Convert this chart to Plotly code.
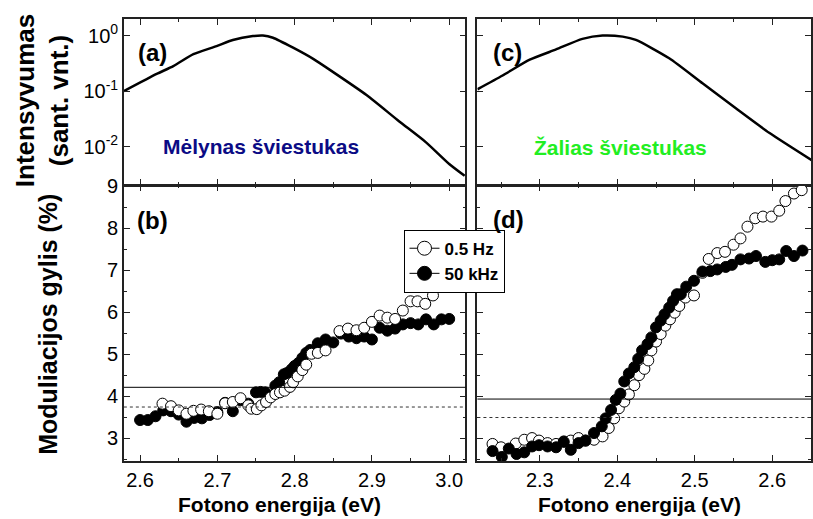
import plotly.graph_objects as go

# ---- Emission spectra (normalised intensity) ----
blue_E = [2.579, 2.6215, 2.643, 2.669, 2.699, 2.720, 2.746, 2.759, 2.772, 2.798,
          2.824, 2.849, 2.893, 2.935, 2.970, 3.000, 3.020]
blue_I = [0.100, 0.204, 0.282, 0.462, 0.646, 0.832, 0.977, 1.0, 0.912, 0.603,
          0.380, 0.224, 0.0851, 0.0288, 0.0120, 0.0049, 0.0030]

green_E = [2.2195, 2.252, 2.287, 2.321, 2.355, 2.381, 2.407, 2.424, 2.467, 2.510,
           2.553, 2.596, 2.652]
green_I = [0.108, 0.191, 0.367, 0.562, 0.871, 1.0, 0.955, 0.832, 0.389, 0.138,
           0.049, 0.0178, 0.0056]

# ---- Modulation depth, blue LED ----
blue_low_E = [2.629, 2.640, 2.650, 2.660, 2.669, 2.679, 2.689, 2.700, 2.710, 2.720,
              2.730, 2.740, 2.744, 2.751, 2.757, 2.763, 2.769, 2.775, 2.781, 2.787,
              2.794, 2.798, 2.804, 2.810, 2.815, 2.822, 2.830, 2.840, 2.858, 2.869,
              2.880, 2.890, 2.900, 2.910, 2.920, 2.930, 2.940, 2.950, 2.959, 2.969,
              2.979]
blue_low_M = [3.82, 3.76, 3.66, 3.58, 3.65, 3.68, 3.64, 3.58, 3.83, 3.86,
              3.95, 3.78, 3.70, 3.69, 3.78, 3.86, 3.97, 4.05, 4.09, 4.13,
              4.22, 4.33, 4.47, 4.62, 4.75, 5.01, 5.03, 5.09, 5.55, 5.61,
              5.57, 5.63, 5.77, 5.92, 5.87, 5.84, 6.04, 6.26, 6.26, 6.20,
              6.40]

blue_high_E = [2.600, 2.610, 2.620, 2.630, 2.640, 2.650, 2.660, 2.670, 2.680, 2.690,
               2.700, 2.710, 2.720, 2.730, 2.740, 2.750, 2.756, 2.762, 2.770, 2.775,
               2.780, 2.786, 2.790, 2.796, 2.800, 2.805, 2.810, 2.815, 2.820, 2.830,
               2.840, 2.850, 2.860, 2.870, 2.880, 2.890, 2.900, 2.910, 2.920, 2.930,
               2.940, 2.950, 2.960, 2.970, 2.980, 2.990, 3.000]
blue_high_M = [3.43, 3.43, 3.52, 3.66, 3.64, 3.56, 3.39, 3.48, 3.47, 3.55,
               3.62, 3.84, 3.64, 3.90, 3.82, 4.09, 4.10, 4.09, 4.01, 4.25,
               4.33, 4.52, 4.55, 4.64, 4.72, 4.79, 4.91, 5.03, 5.10, 5.26,
               5.35, 5.28, 5.49, 5.42, 5.38, 5.42, 5.35, 5.63, 5.56, 5.61,
               5.71, 5.74, 5.71, 5.83, 5.71, 5.83, 5.84]

# ---- Modulation depth, green LED ----
green_low_E = [2.239, 2.250, 2.269, 2.280, 2.290, 2.299, 2.310, 2.321, 2.331, 2.340,
               2.350, 2.359, 2.370, 2.381, 2.389, 2.396, 2.402, 2.409, 2.415, 2.422,
               2.428, 2.435, 2.440, 2.444, 2.450, 2.456, 2.462, 2.468, 2.474, 2.480,
               2.488, 2.499, 2.510, 2.518, 2.529, 2.539, 2.550, 2.559, 2.568, 2.578,
               2.588, 2.599, 2.609, 2.617, 2.628, 2.638]
green_low_M = [2.86, 2.78, 2.87, 2.96, 3.00, 2.94, 2.88, 2.86, 2.92, 2.94,
               3.00, 2.94, 2.96, 3.04, 3.24, 3.47, 3.71, 3.87, 4.04, 4.26,
               4.50, 4.65, 4.85, 5.09, 5.30, 5.48, 5.68, 5.83, 5.99, 6.15,
               6.35, 6.40, 6.94, 7.27, 7.41, 7.44, 7.61, 7.76, 8.04, 8.24,
               8.28, 8.28, 8.42, 8.65, 8.83, 8.91]

green_high_E = [2.239, 2.251, 2.260, 2.270, 2.280, 2.290, 2.299, 2.310, 2.321, 2.331,
                2.340, 2.350, 2.359, 2.370, 2.380, 2.385, 2.392, 2.398, 2.404, 2.409,
                2.415, 2.422, 2.427, 2.432, 2.439, 2.444, 2.450, 2.456, 2.461, 2.467,
                2.472, 2.477, 2.482, 2.489, 2.499, 2.510, 2.520, 2.529, 2.540, 2.548,
                2.559, 2.570, 2.579, 2.591, 2.600, 2.609, 2.618, 2.628, 2.639]
green_high_M = [2.69, 2.55, 2.75, 2.62, 2.66, 2.80, 2.83, 2.80, 2.78, 2.91,
                2.72, 2.88, 2.94, 3.12, 3.28, 3.47, 3.67, 3.91, 4.06, 4.35,
                4.54, 4.69, 4.89, 5.09, 5.24, 5.40, 5.64, 5.80, 5.95, 6.11,
                6.27, 6.43, 6.43, 6.61, 6.75, 6.97, 6.98, 7.02, 7.08, 7.13,
                7.26, 7.28, 7.34, 7.20, 7.24, 7.26, 7.46, 7.34, 7.47]

# Reference levels (solid and dotted) for each LED
blue_levels = [4.21, 3.74]
green_levels = [3.93, 3.49]

series_names = ["0.5 Hz", "50 kHz"]
log_tickvals = [1, 0.1, 0.01]
log_ticktext = ["10<sup>0</sup>", "10<sup>-1</sup>", "10<sup>-2</sup>"]

FONT = "Liberation Sans, Arial"
AX = "#222222"

fig = go.Figure()

spec_line = dict(color="black", width=2.5, shape="spline", smoothing=0.6)
fig.add_trace(go.Scatter(x=blue_E, y=blue_I, mode="lines", line=spec_line,
                         xaxis="x", yaxis="y", showlegend=False))
fig.add_trace(go.Scatter(x=green_E, y=green_I, mode="lines", line=spec_line,
                         xaxis="x2", yaxis="y2", showlegend=False))

open_mk = dict(symbol="circle", size=11, color="white", line=dict(color="black", width=1))
full_mk = dict(symbol="circle", size=11, color="black", line=dict(color="black", width=1))

fig.add_trace(go.Scatter(x=blue_high_E, y=blue_high_M, mode="markers", marker=full_mk,
                         xaxis="x3", yaxis="y3", showlegend=False))
fig.add_trace(go.Scatter(x=blue_low_E, y=blue_low_M, mode="markers", marker=open_mk,
                         xaxis="x3", yaxis="y3", showlegend=False))
fig.add_trace(go.Scatter(x=green_low_E, y=green_low_M, mode="markers", marker=open_mk,
                         xaxis="x4", yaxis="y4", showlegend=False))
fig.add_trace(go.Scatter(x=green_high_E, y=green_high_M, mode="markers", marker=full_mk,
                         xaxis="x4", yaxis="y4", showlegend=False))

# legend entries (line through marker)
for name, mk in zip(series_names, [open_mk, full_mk]):
    fig.add_trace(go.Scatter(x=[None], y=[None], mode="lines+markers", name=name,
                             marker=dict(mk, size=14), line=dict(color="black", width=1),
                             xaxis="x3", yaxis="y3"))

# reference levels
for xr, yr, lv in [("x3", "y3", blue_levels), ("x4", "y4", green_levels)]:
    fig.add_shape(type="line", xref=xr + " domain", yref=yr, x0=0, x1=1, y0=lv[0], y1=lv[0],
                  line=dict(color="black", width=1))
    fig.add_shape(type="line", xref=xr + " domain", yref=yr, x0=0, x1=1, y0=lv[1], y1=lv[1],
                  line=dict(color="#333333", width=1, dash="dot"))

W, H = 813, 519
xL = [124 / W, 466 / W]
xR = [478 / W, 812 / W]
yT = [1 - 178 / H, 1 - 9 / H]
yB = [1 - 460 / H, 1 - 179 / H]

tickfont = dict(family=FONT, size=20, color="black")


def xax(domain, rng, anchor, labels):
    return dict(domain=domain, range=rng, anchor=anchor, showline=True, linecolor=AX,
                linewidth=1.5, mirror="allticks", ticks="inside", ticklen=6, tickwidth=1,
                tickcolor=AX, dtick=0.1, tick0=2.0, tickformat=".1f",
                showticklabels=labels, showgrid=False, zeroline=False, tickfont=tickfont,
                minor=dict(ticks="inside", ticklen=3, dtick=0.05, tick0=2.0, tickcolor=AX,
                           showgrid=False))


def yax_lin(domain, anchor, labels):
    return dict(domain=domain, range=[2.45, 9.02], anchor=anchor, showline=True,
                linecolor=AX, linewidth=1.5, mirror="allticks", ticks="inside", ticklen=6,
                tickwidth=1, tickcolor=AX, dtick=1, tick0=0, showticklabels=labels,
                showgrid=False, zeroline=False, tickfont=tickfont,
                minor=dict(ticks="inside", ticklen=3, dtick=0.5, tick0=0, tickcolor=AX,
                           showgrid=False))


def yax_log(domain, anchor, labels):
    return dict(domain=domain, type="log", range=[-2.68, 0.30], anchor=anchor,
                showline=True, linecolor=AX, linewidth=1.5, mirror="allticks",
                ticks="inside", ticklen=6, tickwidth=1, tickcolor=AX,
                tickvals=log_tickvals, ticktext=log_ticktext, showticklabels=labels,
                showgrid=False, zeroline=False, tickfont=tickfont)


fig.update_layout(
    width=W, height=H, margin=dict(l=0, r=0, t=0, b=0),
    paper_bgcolor="white", plot_bgcolor="white",
    xaxis=xax(xL, [2.579, 3.021], "y", False),
    yaxis=yax_log(yT, "x", True),
    xaxis2=xax(xR, [2.2195, 2.65], "y2", False),
    yaxis2=yax_log(yT, "x2", False),
    xaxis3=xax(xL, [2.579, 3.021], "y3", True),
    yaxis3=yax_lin(yB, "x3", True),
    xaxis4=xax(xR, [2.2195, 2.65], "y4", True),
    yaxis4=yax_lin(yB, "x4", False),
    showlegend=True,
    legend=dict(x=404 / W, y=1 - 224 / H, xanchor="left", yanchor="top",
                bgcolor="white", bordercolor="black", borderwidth=1,
                font=dict(family=FONT, size=17, color="black", weight="bold"),
                tracegroupgap=0, itemwidth=30),
)

ann_font = dict(family=FONT, size=24, color="black", weight="bold")
anns = [
    dict(text="(a)", x=153, y=43),
    dict(text="(b)", x=153, y=215),
    dict(text="(c)", x=508, y=43),
    dict(text="(d)", x=509, y=214),
]
for a in anns:
    fig.add_annotation(text=a["text"], xref="paper", yref="paper", x=a["x"] / W,
                       y=1 - a["y"] / H, showarrow=False, font=ann_font,
                       xanchor="center", yanchor="middle")

fig.add_annotation(text="Mėlynas šviestukas", xref="paper", yref="paper", x=261 / W,
                   y=1 - 139 / H, showarrow=False, xanchor="center", yanchor="middle",
                   font=dict(family=FONT, size=21, color="#0b0b85", weight="bold"))
fig.add_annotation(text="Žalias šviestukas", xref="paper", yref="paper", x=621 / W,
                   y=1 - 140 / H, showarrow=False, xanchor="center", yanchor="middle",
                   font=dict(family=FONT, size=21, color="#22ee22", weight="bold"))

for cx in [280, 640]:
    fig.add_annotation(text="Fotono energija (eV)", xref="paper", yref="paper",
                       x=cx / W, y=0, showarrow=False, xanchor="center",
                       yanchor="bottom", yshift=1,
                       font=dict(family=FONT, size=21, color="black", weight="bold"))
fig.add_annotation(text="Intensyvumas<br>(sant. vnt.)", xref="paper", yref="paper",
                   x=42 / W, y=1 - 92 / H, showarrow=False, textangle=-90,
                   xanchor="center", yanchor="middle",
                   font=dict(family=FONT, size=26, color="black", weight="bold"))
fig.add_annotation(text="Moduliacijos gylis (%)", xref="paper", yref="paper",
                   x=48 / W, y=1 - 320 / H, showarrow=False, textangle=-90,
                   xanchor="center", yanchor="middle",
                   font=dict(family=FONT, size=25, color="black", weight="bold"))

fig.write_html("out.html")
